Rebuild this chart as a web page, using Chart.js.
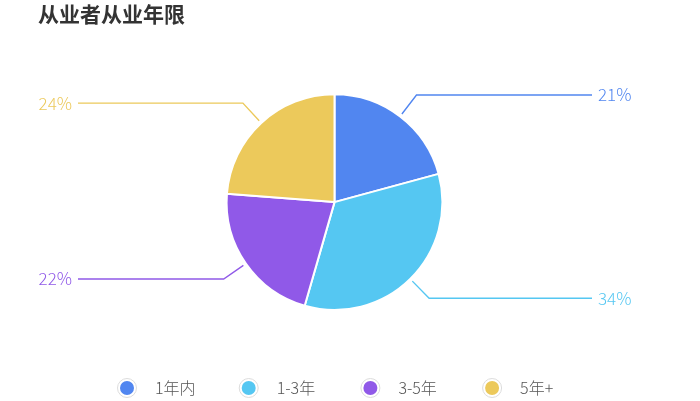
<!DOCTYPE html>
<html>
<head>
<meta charset="utf-8">
<script src="https://cdn.jsdelivr.net/npm/chart.js@4"></script>
<style>
  body { margin: 0; background: #fff; }
  #wrap { width: 700px; height: 401px; position: relative; }
</style>
</head>
<body>
<div id="wrap"><canvas id="yearsChart"></canvas></div>
<script>
const categories = ['1年内', '1-3年', '3-5年', '5年+'];
const shares = [21, 34, 22, 24];
const sliceColors = ['#5186F0', '#55C7F2', '#9059E8', '#ECC95B'];

const FONT = '"Noto Sans CJK SC", "Noto Sans", sans-serif';

// leader lines with percentage text outside the pie
const outerLabels = {
    id: 'outerLabels',
    afterDatasetsDraw(chart) {
        const ctx = chart.ctx;
        const meta = chart.getDatasetMeta(0);
        ctx.save();
        meta.data.forEach((arc, i) => {
            const mid = (arc.startAngle + arc.endAngle) / 2;
            const cos = Math.cos(mid), sin = Math.sin(mid);
            const r0 = arc.outerRadius + 3;
            const r1 = arc.outerRadius + 27;
            const x0 = arc.x + cos * r0, y0 = arc.y + sin * r0;
            const x1 = arc.x + cos * r1, y1 = arc.y + sin * r1;
            const right = cos >= 0;
            const x2 = right ? 592 : 78;
            ctx.strokeStyle = sliceColors[i];
            ctx.lineWidth = 1.4;
            ctx.beginPath();
            ctx.moveTo(x0, y0);
            ctx.lineTo(x1, y1);
            ctx.lineTo(x2, y1);
            ctx.stroke();
            ctx.fillStyle = sliceColors[i];
            ctx.font = '300 17px ' + FONT;
            ctx.textBaseline = 'middle';
            ctx.textAlign = right ? 'left' : 'right';
            ctx.fillText(shares[i] + '%', right ? x2 + 6 : x2 - 6, y1);
        });
        ctx.restore();
    }
};

// legend row at the bottom
const bottomLegend = {
    id: 'bottomLegend',
    afterDraw(chart) {
        const ctx = chart.ctx;
        const y = 388;
        ctx.save();
        categories.forEach((name, i) => {
            const cx = 127 + i * 121.7;
            ctx.beginPath();
            ctx.arc(cx, y, 9.5, 0, Math.PI * 2);
            ctx.fillStyle = '#fff';
            ctx.fill();
            ctx.strokeStyle = '#dcdcdc';
            ctx.lineWidth = 1;
            ctx.stroke();
            ctx.beginPath();
            ctx.arc(cx, y, 7, 0, Math.PI * 2);
            ctx.fillStyle = sliceColors[i];
            ctx.fill();
            ctx.fillStyle = '#555';
            ctx.font = '300 16px ' + FONT;
            ctx.textAlign = 'left';
            ctx.textBaseline = 'middle';
            ctx.fillText(name, cx + 28, y);
        });
        ctx.restore();
    }
};

new Chart(document.getElementById('yearsChart'), {
    type: 'pie',
    data: {
        labels: categories,
        datasets: [{
            data: shares,
            backgroundColor: sliceColors,
            borderColor: '#fff',
            borderWidth: 2
        }]
    },
    options: {
        responsive: true,
        maintainAspectRatio: false,
        animation: false,
        layout: { padding: { top: 1, left: 38, right: 69, bottom: 90 } },
        plugins: {
            legend: { display: false },
            tooltip: { enabled: false },
            title: {
                display: true,
                text: '从业者从业年限',
                align: 'start',
                color: '#333',
                font: { family: FONT, size: 21, weight: 'bold', lineHeight: 1.2 },
                padding: { top: 0, bottom: 67 }
            }
        }
    },
    plugins: [outerLabels, bottomLegend]
});
</script>
</body>
</html>
